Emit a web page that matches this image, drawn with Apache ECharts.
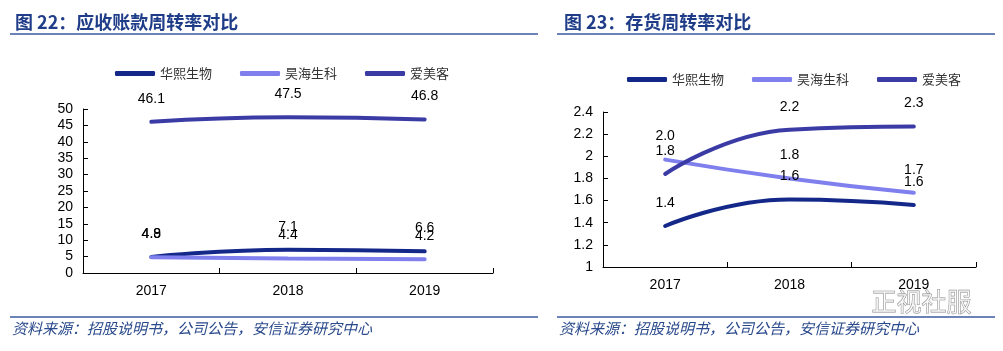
<!DOCTYPE html>
<html>
<head>
<meta charset="utf-8">
<script src="https://cdn.jsdelivr.net/npm/echarts@6/dist/echarts.min.js"></script>
<style>
  html, body { margin: 0; padding: 0; background: #fff; }
  #main { width: 1003px; height: 351px; }
</style>
</head>
<body>
<div id="main"></div>
<script>
// 数据
const years = ['2017', '2018', '2019'];
const legendData = ['华熙生物', '昊海生科', '爱美客'];
// 图22 应收账款周转率
const arHuaxi = [4.9, 7.1, 6.6];
const arHaohai = [4.8, 4.4, 4.2];
const arAimeike = [46.1, 47.5, 46.8];
// 图23 存货周转率
const invHuaxi = [1.37, 1.61, 1.56];
const invHaohai = [1.97, 1.80, 1.67];
const invAimeike = [1.84, 2.24, 2.27];

const colors = ['#14288a', '#7f7fee', '#3b3ba6'];
const font = '"Liberation Sans", Arial, "Noto Sans CJK SC", sans-serif';
const cjk = '"Noto Sans CJK SC", sans-serif';

let myChart = echarts.init(document.getElementById('main'));

function makeSeries (data, idx, axisIdx, digits) {
  return {
    name: legendData[idx],
    type: 'line',
    smooth: true,
    symbol: 'circle',
    symbolSize: 0.1,
    showSymbol: true,
    xAxisIndex: axisIdx,
    yAxisIndex: axisIdx,
    lineStyle: { width: 4, color: colors[idx], cap: 'round' },
    itemStyle: { color: colors[idx] },
    label: {
      show: true,
      position: 'top',
      distance: 16,
      color: '#000',
      fontSize: 14,
      fontFamily: font,
      formatter: function (p) { return p.value.toFixed(digits); }
    },
    data: data
  };
}

function xAxisOf (gridIdx) {
  return {
    type: 'category',
    gridIndex: gridIdx,
    data: years,
    boundaryGap: true,
    axisLine: { show: true, onZero: false, lineStyle: { color: '#000', width: 1 } },
    axisTick: { show: true, interval: 0, inside: true, length: 5, lineStyle: { color: '#000', width: 1 } },
    axisLabel: { color: '#000', fontSize: 14, fontFamily: font, margin: 11 },
    splitLine: { show: false }
  };
}

function yAxisOf (gridIdx, min, max, interval) {
  return {
    type: 'value',
    gridIndex: gridIdx,
    min: min,
    max: max,
    interval: interval,
    axisLine: { show: true, onZero: false, lineStyle: { color: '#000', width: 1 } },
    axisTick: { show: true, inside: true, length: 5, lineStyle: { color: '#000', width: 1 } },
    axisLabel: { color: '#000', fontSize: 14, fontFamily: font, margin: 10 },
    splitLine: { show: false }
  };
}

function legendOf (left, top) {
  return {
    data: legendData,
    left: left,
    top: top,
    icon: 'roundRect',
    itemWidth: 40,
    itemHeight: 5,
    itemGap: 28,
    textStyle: { color: '#333', fontSize: 13, fontFamily: cjk }
  };
}

const titleColor = '#1f3c88';
const footer = '资料来源：招股说明书，公司公告，安信证券研究中心';

myChart.setOption({
  animation: false,
  color: colors,
  title: [
    { text: '图 22：应收账款周转率对比', left: 10, top: 8,
      textStyle: { color: titleColor, fontSize: 18, fontWeight: 'bold', fontFamily: cjk } },
    { text: '图 23：存货周转率对比', left: 559, top: 8,
      textStyle: { color: titleColor, fontSize: 18, fontWeight: 'bold', fontFamily: cjk } }
  ],
  legend: [legendOf(110, 62), legendOf(622, 68)],
  grid: [
    { left: 83, right: 510, top: 109, bottom: 78 },
    { left: 603, right: 27, top: 112, bottom: 84 }
  ],
  xAxis: [xAxisOf(0), xAxisOf(1)],
  yAxis: [yAxisOf(0, 0, 50, 5), yAxisOf(1, 1, 2.4, 0.2)],
  series: [
    makeSeries(arHuaxi, 0, 0, 1),
    makeSeries(arHaohai, 1, 0, 1),
    makeSeries(arAimeike, 2, 0, 1),
    makeSeries(invHuaxi, 0, 1, 1),
    makeSeries(invHaohai, 1, 1, 1),
    makeSeries(invAimeike, 2, 1, 1)
  ],
  graphic: [
    { type: 'line', shape: { x1: 10, y1: 34, x2: 538, y2: 34 }, style: { stroke: '#3a5aa0', lineWidth: 1.5 } },
    { type: 'line', shape: { x1: 557, y1: 34, x2: 995, y2: 34 }, style: { stroke: '#3a5aa0', lineWidth: 1.5 } },
    { type: 'line', shape: { x1: 10, y1: 317, x2: 538, y2: 317 }, style: { stroke: '#3a5aa0', lineWidth: 1.5 } },
    { type: 'line', shape: { x1: 557, y1: 317, x2: 995, y2: 317 }, style: { stroke: '#3a5aa0', lineWidth: 1.5 } },
    { type: 'text', left: 12, top: 321,
      style: { text: footer, fill: '#2a4a8c', fontSize: 15, fontStyle: 'italic', fontFamily: cjk } },
    { type: 'text', left: 559, top: 321,
      style: { text: footer, fill: '#2a4a8c', fontSize: 15, fontStyle: 'italic', fontFamily: cjk } },
    { type: 'text', left: 871, top: 289, z: 100,
      style: { text: '正视社服', fill: 'rgba(255,255,255,0.6)', stroke: '#8a8a8a', lineWidth: 0.8, fontSize: 25, fontFamily: cjk } }
  ]
});
</script>
</body>
</html>
